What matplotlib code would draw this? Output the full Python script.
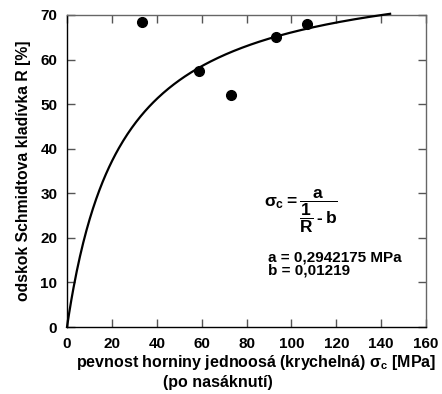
import matplotlib.pyplot as plt
import numpy as np

plt.rcParams['font.family'] = ['Liberation Sans', 'DejaVu Sans']
plt.rcParams['font.weight'] = 'bold'
plt.rcParams['mathtext.fontset'] = 'custom'
plt.rcParams['mathtext.rm'] = 'Liberation Sans:bold'
plt.rcParams['mathtext.it'] = 'Liberation Sans:bold'
plt.rcParams['mathtext.bf'] = 'Liberation Sans:bold'

# measured points (strength MPa, rebound R %)
sigma_c = [33.4, 58.9, 73.1, 93.1, 107.0]
rebound = [68.4, 57.4, 52.0, 65.1, 68.0]

# fitted parameters printed on the chart
a = 0.2942175
b = 0.01219
curve_x = np.linspace(0.01, 144, 300)
curve_y = 1.0 / (a / curve_x + b)

x_ticks = [0, 20, 40, 60, 80, 100, 120, 140, 160]
y_ticks = [0, 10, 20, 30, 40, 50, 60, 70]

fig = plt.figure(figsize=(4.42, 3.94), dpi=100)
ax = fig.add_axes([0.1516, 0.170, 0.8122, 0.792])

ax.plot(np.concatenate([[0], curve_x]), np.concatenate([[0], curve_y]),
        color='black', lw=1.6, clip_on=False, zorder=3)
ax.plot(sigma_c, rebound, 'o', color='black', ms=7, clip_on=False, zorder=4)

ax.set_xlim(0, 160)
ax.set_ylim(0, 70)
ax.set_xticks(x_ticks, labels=[str(t) for t in x_ticks], fontweight='bold', fontsize=11)
ax.set_yticks(y_ticks, labels=[str(t) for t in y_ticks], fontweight='bold', fontsize=11)
ax.tick_params(direction='in', length=6, width=1, color='#555555',
               top=True, right=True, pad=7)
for s in ['top', 'right']:
    ax.spines[s].set_color('#666666')
for s in ['left', 'bottom']:
    ax.spines[s].set_color('black')
for s in ax.spines.values():
    s.set_linewidth(1)

ax.set_ylabel('odskok Schmidtova kladívka R [%]', fontsize=11.3, fontweight='bold', labelpad=7)

fig.text(256 / 442, 1 - 363 / 394, r'pevnost horniny jednoosá (krychelná) $\sigma_\mathrm{c}$ [MPa]',
         ha='center', va='center', fontsize=11.5, fontweight='bold')
fig.text(218 / 442, 1 - 382 / 394, '(po nasáknutí)',
         ha='center', va='center', fontsize=11.5, fontweight='bold')

ax.text(104, 26, r'$\sigma_\mathrm{c} = \dfrac{a}{\dfrac{1}{R}\,\text{-}\,b}$',
        ha='center', va='center', fontsize=12.5)
ax.text(89.5, 15.7, 'a = 0,2942175 MPa', fontsize=11, fontweight='bold', va='center')
ax.text(89.5, 12.6, 'b = 0,01219', fontsize=11, fontweight='bold', va='center')

fig.savefig('out.png', dpi=100)
